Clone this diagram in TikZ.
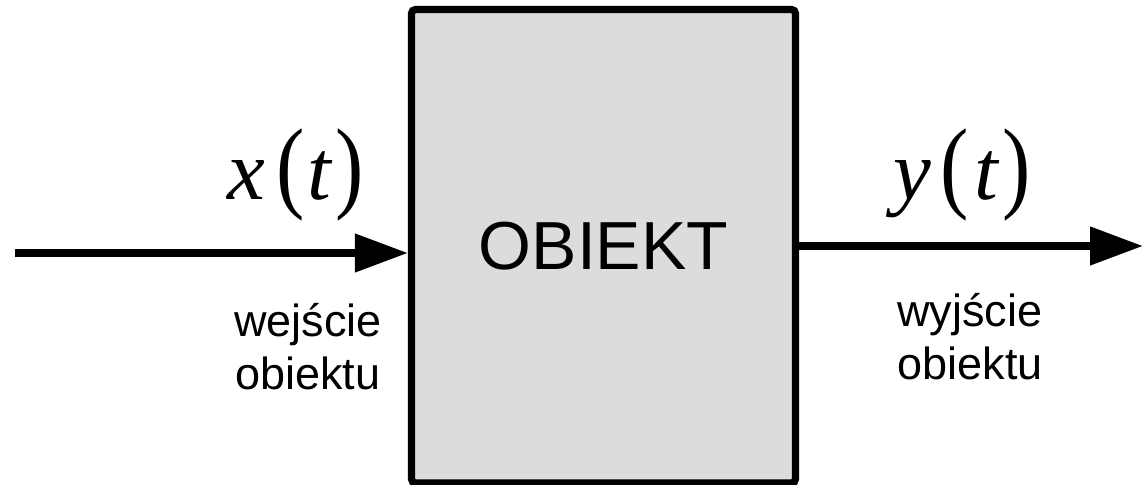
\documentclass[tikz,border=0pt]{standalone}
\usepackage{fontspec}
\setmainfont{Liberation Sans}
\newfontfamily\varserif{Liberation Serif}
\usetikzlibrary{arrows.meta}
\definecolor{boxgray}{HTML}{DCDCDC}
\tikzset{
  px/.style={x=0.5pt,y=-0.5pt},
  blockbox/.style={draw=black,fill=boxgray,line width=3.6pt,rounded corners=2pt,
    minimum width=192pt,minimum height=236.75pt,inner sep=0pt,
    font=\fontsize{34}{40}\selectfont},
  signal/.style={line width=3.8pt,-{Triangle[length=26.5pt,width=18.5pt]}},
  varglyph/.style={inner sep=0pt,anchor=base,font=\varserif\fontsize{42.5}{50}\selectfont},
  sidelabel/.style={inner sep=0pt,anchor=base,align=center,font=\fontsize{22.5}{26.5}\selectfont}
}
\newcommand{\tallparen}[1]{\scalebox{1}[1.2]{#1}}
\begin{document}
\begin{tikzpicture}[px]
\useasboundingbox (0,0) rectangle (1144,485);
\node[blockbox] (box) at (603.5,246.25) {\raisebox{-2.1pt}{OBIEKT}};
\coordinate (in) at (15,253);
\coordinate (out) at (1143,246);
\draw[signal] (in) -- (in -| box.west);
\draw[signal] (box.east |- out) -- (out);
% x(t)
\node[varglyph] (xv) at (246,200) {\itshape x};
\node[varglyph] (xl) at (291,200) {\tallparen{(}};
\node[varglyph] (xt) at (319,200) {\itshape t};
\node[varglyph] (xr) at (350,200) {\tallparen{)}};
% y(t)
\node[varglyph] (yv) at (912,200) {\itshape y};
\node[varglyph] (yl) at (955,200) {\tallparen{(}};
\node[varglyph] (yt) at (986,200) {\itshape t};
\node[varglyph] (yr) at (1017,200) {\tallparen{)}};
% labels
\node[sidelabel] (inlabel) at (308,390) {wejście\\obiektu};
\node[sidelabel] (outlabel) at (970,380) {wyjście\\obiektu};
\end{tikzpicture}
\end{document}
